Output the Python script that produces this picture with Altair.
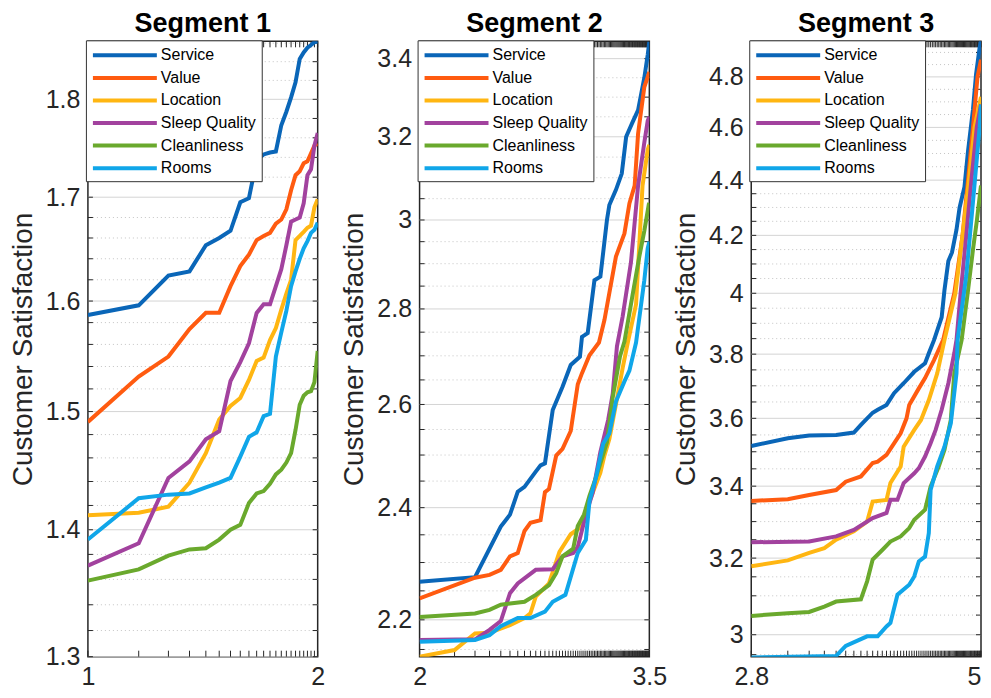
import altair as alt
import pandas as pd

FONT = "Liberation Sans"
SERIES = ["Service", "Value", "Location", "Sleep Quality", "Cleanliness", "Rooms"]
COLORS = ["#0a66b8", "#ff5b10", "#ffb612", "#a2429e", "#6aa92d", "#10a6e9"]
TITLES = ["Segment 1", "Segment 2", "Segment 3"]
Y_TITLE = "Customer Satisfaction"

# ---------------- Segment 1 (index 1..23) ----------------
SEG1_N = 23
SEG1_K = list(range(1, 24))
SEG1_SERVICE = [1.587, 1.596, 1.624, 1.628, 1.653, 1.660, 1.667, 1.695, 1.699, 1.737, 1.743, 1.745,
                1.746, 1.773, 1.787, 1.802, 1.818, 1.843, 1.850, 1.855, 1.858, 1.861, 1.862]
SEG1_VALUE = [1.491, 1.531, 1.549, 1.574, 1.589, 1.589, 1.614, 1.633, 1.644, 1.658, 1.662, 1.665,
              1.674, 1.678, 1.688, 1.707, 1.722, 1.726, 1.734, 1.736, 1.744, 1.752, 1.754]
SEG1_LOCATION = [1.412, 1.414, 1.419, 1.439, 1.464, 1.493, 1.505, 1.512, 1.528, 1.545, 1.548, 1.564,
                 1.575, 1.592, 1.607, 1.620, 1.658, 1.662, 1.666, 1.670, 1.672, 1.690, 1.698]
SEG1_SLEEP = [1.371, 1.389, 1.443, 1.457, 1.476, 1.483, 1.527, 1.544, 1.561, 1.589, 1.597, 1.597,
              1.614, 1.630, 1.653, 1.676, 1.678, 1.680, 1.694, 1.722, 1.728, 1.752, 1.765]
SEG1_CLEAN = [1.359, 1.368, 1.379, 1.384, 1.385, 1.392, 1.400, 1.404, 1.422, 1.430, 1.432, 1.438,
              1.446, 1.450, 1.456, 1.464, 1.484, 1.506, 1.514, 1.517, 1.518, 1.526, 1.554]
SEG1_ROOMS = [1.392, 1.426, 1.429, 1.430, 1.435, 1.439, 1.443, 1.461, 1.478, 1.482, 1.496, 1.498,
              1.549, 1.571, 1.591, 1.614, 1.628, 1.640, 1.650, 1.657, 1.665, 1.668, 1.675]

# ---------------- Segment 2 (index 1..95) ----------------
SEG2_N = 95
SEG2_SERVICE_K = [1, 3, 5, 6, 7, 8, 10, 11, 12, 14, 17, 20, 24, 25, 28, 32, 36, 41, 43, 49, 55, 60, 68, 76, 86, 92, 95]
SEG2_SERVICE = [2.266, 2.274, 2.365, 2.387, 2.430, 2.439, 2.468, 2.480, 2.484, 2.589, 2.636, 2.681, 2.698,
                2.740, 2.748, 2.863, 2.871, 3.000, 3.035, 3.071, 3.110, 3.200, 3.236, 3.267, 3.350, 3.410, 3.445]
SEG2_VALUE_K = [1, 3, 4, 5, 6, 7, 8, 9, 11, 12, 13, 15, 17, 20, 23, 25, 29, 35, 39, 49, 58, 64, 71, 76, 86, 95]
SEG2_VALUE = [2.237, 2.273, 2.278, 2.287, 2.311, 2.317, 2.357, 2.372, 2.377, 2.429, 2.435, 2.499, 2.512,
              2.547, 2.641, 2.664, 2.701, 2.728, 2.776, 2.916, 2.969, 3.039, 3.081, 3.208, 3.326, 3.365]
SEG2_LOCATION_K = [1, 2, 3, 4, 6, 8, 9, 10, 13, 16, 20, 24, 29, 36, 39, 43, 49, 56, 62, 73, 83, 92, 95]
SEG2_LOCATION = [2.138, 2.149, 2.177, 2.178, 2.191, 2.203, 2.211, 2.240, 2.263, 2.319, 2.351, 2.363,
                 2.412, 2.466, 2.499, 2.531, 2.600, 2.675, 2.728, 2.810, 3.081, 3.168, 3.180]
SEG2_SLEEP_K = [1, 3, 4, 5, 6, 7, 10, 14, 17, 21, 23, 27, 31, 36, 42, 46, 50, 56, 66, 76, 86, 92, 95]
SEG2_SLEEP = [2.166, 2.167, 2.183, 2.198, 2.246, 2.263, 2.287, 2.288, 2.311, 2.317, 2.328, 2.387,
              2.429, 2.506, 2.569, 2.622, 2.720, 2.784, 2.903, 3.081, 3.186, 3.240, 3.250]
SEG2_CLEAN_K = [1, 3, 4, 5, 6, 8, 10, 13, 15, 17, 21, 23, 26, 29, 33, 41, 46, 53, 58, 68, 78, 86, 94, 95]
SEG2_CLEAN = [2.205, 2.211, 2.217, 2.226, 2.228, 2.231, 2.243, 2.260, 2.281, 2.311, 2.325, 2.366,
              2.387, 2.422, 2.457, 2.525, 2.615, 2.698, 2.730, 2.829, 2.917, 2.975, 3.037, 3.040]
SEG2_ROOMS_K = [1, 3, 4, 5, 7, 9, 12, 14, 18, 23, 27, 29, 33, 38, 43, 49, 58, 64, 73, 86, 92, 95]
SEG2_ROOMS = [2.163, 2.166, 2.174, 2.189, 2.203, 2.203, 2.214, 2.231, 2.243, 2.317, 2.341, 2.412,
              2.457, 2.522, 2.542, 2.606, 2.647, 2.669, 2.728, 2.863, 2.935, 2.950]

# ---------------- Segment 3 (index 1..78) ----------------
SEG3_N = 78
SEG3_SERVICE_K = [1, 2, 3, 5, 7, 8, 10, 11, 13, 15, 18, 22, 27, 29, 32, 37, 39, 42, 45, 49, 52, 57, 61, 67, 71, 76, 78]
SEG3_SERVICE = [3.517, 3.540, 3.548, 3.550, 3.557, 3.580, 3.617, 3.626, 3.641, 3.677, 3.708, 3.744, 3.771,
                3.803, 3.845, 3.920, 4.010, 4.110, 4.140, 4.220, 4.300, 4.375, 4.510, 4.670, 4.810, 4.920, 4.950]
SEG3_VALUE_K = [1, 2, 3, 5, 6, 8, 10, 11, 13, 15, 17, 19, 20, 24, 27, 32, 38, 47, 55, 61, 67, 73, 78]
SEG3_VALUE = [3.358, 3.363, 3.375, 3.389, 3.413, 3.428, 3.467, 3.471, 3.491, 3.525, 3.555, 3.600,
              3.641, 3.692, 3.724, 3.781, 3.845, 4.000, 4.200, 4.400, 4.600, 4.800, 4.870]
SEG3_LOCATION_K = [1, 2, 3, 4, 5, 7, 9, 10, 13, 14, 17, 18, 22, 25, 29, 34, 39, 48, 55, 62, 69, 78]
SEG3_LOCATION = [3.178, 3.194, 3.214, 3.227, 3.250, 3.273, 3.300, 3.356, 3.361, 3.409, 3.457, 3.515,
                 3.565, 3.595, 3.656, 3.739, 3.845, 4.000, 4.200, 4.400, 4.600, 4.720]
SEG3_SLEEP_K = [1, 3, 5, 7, 10, 13, 14, 16, 18, 22, 24, 27, 30, 33, 37, 42, 47, 49, 53, 59, 65, 72, 78]
SEG3_SLEEP = [3.243, 3.245, 3.259, 3.277, 3.310, 3.324, 3.361, 3.361, 3.409, 3.437, 3.452, 3.486,
              3.525, 3.565, 3.626, 3.708, 3.803, 3.845, 4.000, 4.200, 4.400, 4.600, 4.690]
SEG3_CLEAN_K = [1, 2, 3, 4, 5, 8, 9, 10, 12, 14, 17, 20, 22, 27, 30, 35, 39, 44, 47, 54, 61, 67, 72, 78]
SEG3_CLEAN = [3.048, 3.055, 3.058, 3.072, 3.085, 3.091, 3.138, 3.196, 3.222, 3.245, 3.259, 3.282,
              3.305, 3.333, 3.399, 3.457, 3.505, 3.595, 3.739, 3.845, 4.010, 4.150, 4.250, 4.380]
SEG3_ROOMS_K = [1, 5, 6, 9, 11, 13, 14, 16, 20, 22, 24, 27, 29, 30, 34, 39, 44, 49, 50, 59, 67, 76, 78]
SEG3_ROOMS = [2.943, 2.947, 2.972, 2.996, 2.996, 3.021, 3.030, 3.103, 3.129, 3.151, 3.191, 3.204,
              3.268, 3.389, 3.457, 3.515, 3.585, 3.739, 3.845, 4.060, 4.320, 4.600, 4.690]

# ---------------- axes ----------------
SEG1_YDOMAIN = [1.3, 1.862]
SEG2_YDOMAIN = [2.138, 3.446]
SEG3_YDOMAIN = [2.945, 4.946]
SEG1_YMAJOR = [1.3, 1.4, 1.5, 1.6, 1.7, 1.8]
SEG2_YMAJOR = [2.2, 2.4, 2.6, 2.8, 3.0, 3.2, 3.4]
SEG3_YMAJOR = [3.0, 3.2, 3.4, 3.6, 3.8, 4.0, 4.2, 4.4, 4.6, 4.8]
SEG1_YMINOR = [round(1.30 + 0.02 * i, 2) for i in range(1, 29) if i % 5 != 0]
SEG2_YMINOR = [round(2.10 + 0.05 * i, 2) for i in range(1, 27) if i % 4 != 2]
SEG3_YMINOR = [round(2.90 + 0.05 * i, 2) for i in range(1, 41) if i % 4 != 2]
SEG1_XLABELS = ["1", "2"]
SEG2_XLABELS = ["2", "3.5"]
SEG3_XLABELS = ["2.8", "5"]

W, H = 230, 616
AX = "#262626"


def panel(title, ks, vs, n, ydom, ymajor, yminor, xlabels, last_align="center"):
    rows = []
    for name, kk, vv in zip(SERIES, ks, vs):
        for k, v in zip(kk, vv):
            rows.append({"k": k, "v": v, "series": name})
    df = pd.DataFrame(rows)
    xs = alt.Scale(type="log", domain=[1, n], nice=False)
    ys = alt.Scale(type="log", domain=ydom, nice=False, zero=False)

    major = alt.Chart(pd.DataFrame({"v": ymajor})).mark_rule(color="#d4d4d4", strokeWidth=1).encode(
        y=alt.Y("v:Q", scale=ys))
    minor = alt.Chart(pd.DataFrame({"v": yminor})).mark_rule(
        color="#c4c4c4", strokeWidth=1, strokeDash=[1, 3]).encode(y=alt.Y("v:Q", scale=ys))

    yt = pd.DataFrame({"v": ymajor + yminor})
    ytl = alt.Chart(yt).mark_rule(color=AX, strokeWidth=1).encode(
        y=alt.Y("v:Q", scale=ys), x=alt.value(0), x2=alt.value(5))
    ytr = alt.Chart(yt).mark_rule(color=AX, strokeWidth=1).encode(
        y=alt.Y("v:Q", scale=ys), x=alt.value(W), x2=alt.value(W - 5))

    xt = pd.DataFrame({"k": list(range(1, n + 1))})
    xtb = alt.Chart(xt).mark_rule(color=AX, strokeWidth=1).encode(
        x=alt.X("k:Q", scale=xs), y=alt.value(H), y2=alt.value(H - 6))
    xtt = alt.Chart(xt).mark_rule(color=AX, strokeWidth=1).encode(
        x=alt.X("k:Q", scale=xs), y=alt.value(0), y2=alt.value(6))

    label_expr = f"datum.value == 1 ? '{xlabels[0]}' : '{xlabels[1]}'"
    label_align = alt.condition(f"datum.value == {n}", alt.value(last_align), alt.value("center"))
    lines = alt.Chart(df).mark_line(strokeWidth=4, clip=True).encode(
        x=alt.X("k:Q", scale=xs, axis=alt.Axis(
            values=[1, n], labelExpr=label_expr, title=None, ticks=False, tickSize=0,
            domain=False, grid=False, labelFontSize=25, labelFlush=False, labelPadding=8,
            labelAlign=label_align)),
        y=alt.Y("v:Q", scale=ys, axis=alt.Axis(
            values=ymajor, labelExpr="format(datum.value, '~g')", title=Y_TITLE,
            ticks=False, tickSize=0, domain=False, grid=False, labelFontSize=25,
            labelPadding=8, titleFontSize=28, titleFontWeight="normal", titlePadding=8)),
        color=alt.Color("series:N", scale=alt.Scale(domain=SERIES, range=COLORS),
                        legend=alt.Legend(
                            title=None, orient="none", legendX=-2, legendY=-1,
                            symbolType="M-1,0H7", symbolSize=256, symbolStrokeWidth=4,
                            labelFontSize=16, labelFont=FONT, labelColor="black",
                            fillColor="white", strokeColor="#333333", padding=5,
                            rowPadding=4.6, labelOffset=50)),
    )
    return alt.layer(minor, major, ytl, ytr, xtb, xtt, lines).properties(
        width=W, height=H,
        title=alt.TitleParams(title, fontSize=27, fontWeight="bold", font=FONT, color="black",
                              anchor="middle", frame="group", offset=2))


p1 = panel(TITLES[0],
           [SEG1_K] * 6,
           [SEG1_SERVICE, SEG1_VALUE, SEG1_LOCATION, SEG1_SLEEP, SEG1_CLEAN, SEG1_ROOMS],
           SEG1_N, SEG1_YDOMAIN, SEG1_YMAJOR, SEG1_YMINOR, SEG1_XLABELS)
p2 = panel(TITLES[1],
           [SEG2_SERVICE_K, SEG2_VALUE_K, SEG2_LOCATION_K, SEG2_SLEEP_K, SEG2_CLEAN_K, SEG2_ROOMS_K],
           [SEG2_SERVICE, SEG2_VALUE, SEG2_LOCATION, SEG2_SLEEP, SEG2_CLEAN, SEG2_ROOMS],
           SEG2_N, SEG2_YDOMAIN, SEG2_YMAJOR, SEG2_YMINOR, SEG2_XLABELS)
p3 = panel(TITLES[2],
           [SEG3_SERVICE_K, SEG3_VALUE_K, SEG3_LOCATION_K, SEG3_SLEEP_K, SEG3_CLEAN_K, SEG3_ROOMS_K],
           [SEG3_SERVICE, SEG3_VALUE, SEG3_LOCATION, SEG3_SLEEP, SEG3_CLEAN, SEG3_ROOMS],
           SEG3_N, SEG3_YDOMAIN, SEG3_YMAJOR, SEG3_YMINOR, SEG3_XLABELS, last_align="right")

chart = alt.hconcat(p1, p2, p3, spacing=102, bounds="flush").resolve_scale(
    color="independent", x="independent", y="independent").resolve_legend(
    color="independent").configure_view(stroke=AX, strokeWidth=1.5).configure_axis(
    labelFont=FONT, titleFont=FONT, labelColor=AX, titleColor=AX).properties(
    padding={"left": 0, "top": 0, "right": 0, "bottom": 0})

chart.save("out.html", embed_options={"renderer": "svg", "actions": False})
